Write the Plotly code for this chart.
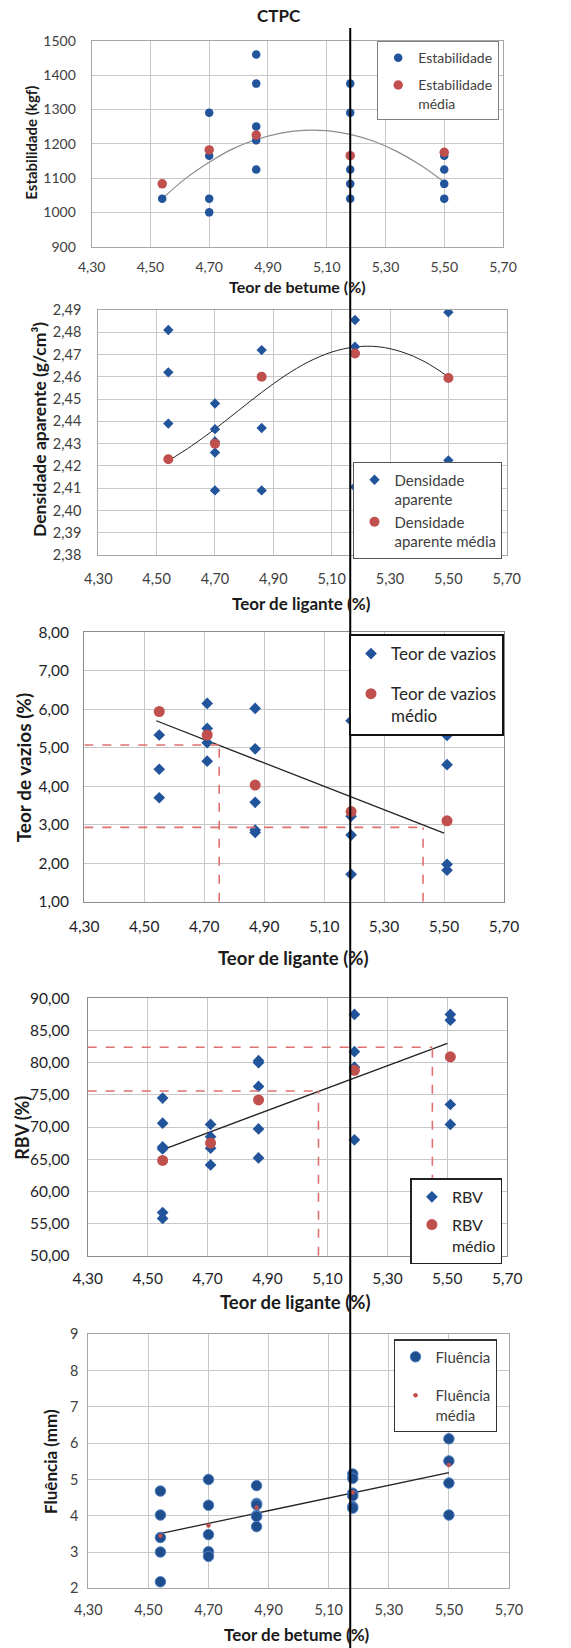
import plotly.graph_objects as go

W, H = 571, 1648
FONT = "Lato"
BLUE = "#22549B"
RED = "#C0504D"

# ---------------- Data ----------------
x_ticks = [4.30, 4.50, 4.70, 4.90, 5.10, 5.30, 5.50, 5.70]

# Plot 1 - Estabilidade
est_x = [4.54, 4.70, 4.70, 4.70, 4.70, 4.86, 4.86, 4.86, 4.86, 4.86,
         5.18, 5.18, 5.18, 5.18, 5.18, 5.50, 5.50, 5.50, 5.50]
est_y = [1040, 1290, 1165, 1040, 1000, 1460, 1375, 1250, 1210, 1125,
         1375, 1290, 1125, 1083, 1040, 1165, 1125, 1083, 1040]
est_med_x = [4.54, 4.70, 4.86, 5.18, 5.50]
est_med_y = [1083, 1182, 1225, 1165, 1175]
est_trend_x = [4.54, 4.62, 4.70, 4.78, 4.86, 4.94, 5.02, 5.10, 5.18, 5.26, 5.34, 5.42, 5.50]
est_trend_y = [1040, 1099, 1146, 1185, 1212, 1230, 1239, 1238, 1227, 1207, 1177, 1137, 1088]

# Plot 2 - Densidade aparente
den_x = [4.54, 4.54, 4.54, 4.70, 4.70, 4.70, 4.70, 4.70, 4.86, 4.86, 4.86,
         5.18, 5.18, 5.18, 5.50, 5.50]
den_y = [2.481, 2.462, 2.439, 2.448, 2.4365, 2.431, 2.426, 2.409, 2.472, 2.437, 2.409,
         2.4855, 2.4735, 2.4105, 2.489, 2.4225]
den_med_x = [4.54, 4.70, 4.86, 5.18, 5.50]
den_med_y = [2.423, 2.430, 2.460, 2.4705, 2.4595]
den_trend_x = [4.54, 4.62, 4.70, 4.78, 4.86, 4.94, 5.02, 5.10, 5.18, 5.26, 5.34, 5.42, 5.50]
den_trend_y = [2.4223, 2.4290, 2.4366, 2.4448, 2.4530, 2.4605, 2.4667, 2.4711, 2.4734,
               2.4735, 2.4712, 2.4667, 2.4600]

# Plot 3 - Teor de vazios
vaz_x = [4.55, 4.55, 4.55, 4.71, 4.71, 4.71, 4.71, 4.87, 4.87, 4.87, 4.87, 4.87,
         5.19, 5.19, 5.19, 5.19, 5.51, 5.51, 5.51, 5.51]
vaz_y = [5.33, 4.44, 3.70, 6.15, 5.50, 5.13, 4.65, 6.02, 4.97, 3.58, 2.86, 2.80,
         5.70, 3.22, 2.73, 1.71, 5.32, 4.56, 1.97, 1.82]
vaz_med_x = [4.55, 4.71, 4.87, 5.19, 5.51]
vaz_med_y = [5.94, 5.33, 4.03, 3.34, 3.10]
vaz_trend_x = [4.54, 5.50]
vaz_trend_y = [5.70, 2.78]
vaz_ref_x = [4.75, 5.43]
vaz_ref_y = [5.07, 2.93]

# Plot 4 - RBV
rbv_x = [4.55] * 6 + [4.71] * 4 + [4.87] * 5 + [5.19] * 4 + [5.51] * 4
rbv_y = [74.5, 70.6, 66.9, 66.6, 56.7, 55.8,
         70.4, 68.5, 66.7, 64.1,
         80.3, 80.0, 76.3, 69.7, 65.2,
         87.5, 81.7, 79.3, 68.0,
         87.5, 86.6, 73.5, 70.4]
rbv_med_x = [4.55, 4.71, 4.87, 5.19, 5.51]
rbv_med_y = [64.8, 67.5, 74.2, 78.8, 80.9]
rbv_trend_x = [4.54, 5.50]
rbv_trend_y = [66.3, 83.0]
rbv_ref_x = [5.07, 5.45]
rbv_ref_y = [75.6, 82.4]

# Plot 5 - Fluência
flu_x = [4.54] * 5 + [4.70] * 5 + [4.86] * 6 + [5.18] * 6 + [5.50] * 4
flu_y = [4.68, 4.02, 3.40, 3.00, 2.18,
         5.00, 4.29, 3.48, 3.01, 2.88,
         4.83, 4.34, 4.30, 4.01, 3.98, 3.70,
         5.15, 5.03, 4.62, 4.55, 4.25, 4.21,
         6.12, 5.51, 4.90, 4.02]
flu_med_x = [4.54, 4.70, 4.86, 5.18, 5.50]
flu_med_y = [3.45, 3.73, 4.23, 4.64, 5.40]
flu_trend_x = [4.535, 5.50]
flu_trend_y = [3.50, 5.19]

optimum_x = 5.18

# ---------------- Layout helpers ----------------
def dx(px):
    return px / W

def dy(py):
    return 1 - py / H

# plot areas in pixels: (left, right, top, bottom)
areas = [
    (91.7, 503.0, 40.7, 246.7),
    (98.3, 506.7, 310.0, 555.0),
    (84.3, 504.0, 632.2, 901.7),
    (87.7, 507.3, 998.3, 1255.7),
    (88.3, 509.0, 1334.3, 1588.3),
]

fig = go.Figure()

def add(trace):
    fig.add_trace(trace)

# Plot 1
add(go.Scatter(x=est_trend_x, y=est_trend_y, mode="lines", line=dict(color="#8C8C8C", width=1.2, shape="spline"),
               showlegend=False, xaxis="x", yaxis="y", hoverinfo="skip"))
add(go.Scatter(x=est_x, y=est_y, mode="markers", name="Estabilidade",
               marker=dict(color=BLUE, size=8.5, symbol="circle"), xaxis="x", yaxis="y",
               legend="legend", legendgroup="a1"))
add(go.Scatter(x=est_med_x, y=est_med_y, mode="markers", name="Estabilidade<br>média",
               marker=dict(color=RED, size=9.5, symbol="circle"), xaxis="x", yaxis="y",
               legend="legend", legendgroup="b1"))

# Plot 2
add(go.Scatter(x=den_trend_x, y=den_trend_y, mode="lines", line=dict(color="#222222", width=1, shape="spline"),
               showlegend=False, xaxis="x2", yaxis="y2", hoverinfo="skip"))
add(go.Scatter(x=den_x, y=den_y, mode="markers", name="Densidade<br>aparente",
               marker=dict(color=BLUE, size=8, symbol="diamond"), xaxis="x2", yaxis="y2",
               legend="legend2", legendgroup="a2"))
add(go.Scatter(x=den_med_x, y=den_med_y, mode="markers", name="Densidade<br>aparente média",
               marker=dict(color=RED, size=10, symbol="circle"), xaxis="x2", yaxis="y2",
               legend="legend2", legendgroup="b2"))

# Plot 3
add(go.Scatter(x=vaz_trend_x, y=vaz_trend_y, mode="lines", line=dict(color="#222222", width=1.3),
               showlegend=False, xaxis="x3", yaxis="y3", hoverinfo="skip"))
add(go.Scatter(x=vaz_x, y=vaz_y, mode="markers", name="Teor de vazios",
               marker=dict(color=BLUE, size=9, symbol="diamond"), xaxis="x3", yaxis="y3",
               legend="legend3", legendgroup="a3"))
add(go.Scatter(x=vaz_med_x, y=vaz_med_y, mode="markers", name="Teor de vazios<br>médio",
               marker=dict(color=RED, size=11, symbol="circle"), xaxis="x3", yaxis="y3",
               legend="legend3", legendgroup="b3"))

# Plot 4
add(go.Scatter(x=rbv_trend_x, y=rbv_trend_y, mode="lines", line=dict(color="#222222", width=1.3),
               showlegend=False, xaxis="x4", yaxis="y4", hoverinfo="skip"))
add(go.Scatter(x=rbv_x, y=rbv_y, mode="markers", name="RBV",
               marker=dict(color=BLUE, size=9, symbol="diamond"), xaxis="x4", yaxis="y4",
               legend="legend4", legendgroup="a4"))
add(go.Scatter(x=rbv_med_x, y=rbv_med_y, mode="markers", name="RBV<br>médio",
               marker=dict(color=RED, size=11, symbol="circle"), xaxis="x4", yaxis="y4",
               legend="legend4", legendgroup="b4"))

# Plot 5
add(go.Scatter(x=flu_trend_x, y=flu_trend_y, mode="lines", line=dict(color="#222222", width=1.3),
               showlegend=False, xaxis="x5", yaxis="y5", hoverinfo="skip"))
add(go.Scatter(x=flu_x, y=flu_y, mode="markers", name="Fluência",
               marker=dict(color="#1F4E8F", size=10.5, symbol="circle", line=dict(color="#5080C0", width=1)),
               xaxis="x5", yaxis="y5", legend="legend5", legendgroup="a5"))
add(go.Scatter(x=flu_med_x, y=flu_med_y, mode="markers", name="Fluência<br>média",
               marker=dict(color=RED, size=4.5, symbol="circle"), xaxis="x5", yaxis="y5",
               legend="legend5", legendgroup="b5"))

layout = dict(
    width=W, height=H, margin=dict(l=0, r=0, t=0, b=0, pad=0),
    paper_bgcolor="white", plot_bgcolor="white",
    separators=",.", font=dict(family=FONT, color="#404040", size=14),
)

y_specs = [
    dict(range=[900, 1500], dtick=100, tick0=900, tickformat="d"),
    dict(range=[2.38, 2.49], dtick=0.01, tick0=2.38, tickformat=".2f"),
    dict(range=[1, 8], dtick=1, tick0=1, tickformat=".2f"),
    dict(range=[50, 90], dtick=5, tick0=50, tickformat=".2f"),
    dict(range=[2, 9], dtick=1, tick0=2, tickformat="d"),
]
tick_styles = [
    dict(size=14, color="#404040", xs=7, ys=12, line="#A6A6A6"),
    dict(size=14.5, color="#404040", xs=10, ys=13, line="#A6A6A6"),
    dict(size=15.5, color="#1E1E28", xs=11, ys=11, line="#8C8C8C"),
    dict(size=15.5, color="#1E1E28", xs=9, ys=14, line="#8C8C8C"),
    dict(size=14.5, color="#404040", xs=8, ys=6, line="#A6A6A6"),
]

for i, (l, r, t, b) in enumerate(areas):
    n = "" if i == 0 else str(i + 1)
    ts = tick_styles[i]
    layout["xaxis" + n] = dict(
        domain=[dx(l), dx(r)], anchor="y" + n, range=[4.30, 5.70], tickvals=x_ticks,
        tickformat=".2f", showgrid=True, gridcolor="#C8C8C8", gridwidth=1,
        showline=True, mirror=True, linecolor=ts["line"], linewidth=1.2,
        zeroline=False, ticks="", tickfont=dict(size=ts["size"], color=ts["color"], family=FONT),
        ticklabelstandoff=ts["xs"], automargin=False, fixedrange=True,
    )
    ys = y_specs[i]
    layout["yaxis" + n] = dict(
        domain=[dy(b), dy(t)], anchor="x" + n, range=ys["range"], dtick=ys["dtick"], tick0=ys["tick0"],
        tickformat=ys["tickformat"], showgrid=True, gridcolor="#C8C8C8", gridwidth=1,
        showline=True, mirror=True, linecolor=ts["line"], linewidth=1.2,
        zeroline=False, ticks="", tickfont=dict(size=ts["size"], color=ts["color"], family=FONT),
        ticklabelstandoff=ts["ys"], automargin=False, fixedrange=True,
    )

# (name, right edge px, top px, font size, group gap, border colour, border width)
legend_specs = [
    ("legend", 499.0, 41.0, 14, 6, "#7F7F7F", 1.2),
    ("legend2", 502.3, 462.3, 15, 0, "#555555", 1.2),
    ("legend3", 504.0, 634.0, 17, 15, "#111111", 2),
    ("legend4", 502.3, 1178.3, 16, 4, "#222222", 1.6),
    ("legend5", 497.3, 1339.3, 15, 16, "#333333", 1.2),
]
for name, rx, ty, fs, gap, bc, bw in legend_specs:
    layout[name] = dict(
        x=dx(rx), y=dy(ty), xanchor="right", yanchor="top", xref="paper", yref="paper",
        bgcolor="white", bordercolor=bc, borderwidth=bw,
        font=dict(family=FONT, size=fs, color="#262626" if name in ("legend3", "legend4") else "#404040"),
        tracegroupgap=gap, valign="top", itemwidth=30,
    )

fig.update_layout(**layout)

# Titles (annotations)
def title(text, px, py, size, angle=0, color="#1A1A1A"):
    fig.add_annotation(text="<b>%s</b>" % text, x=dx(px), y=dy(py), xref="paper", yref="paper",
                       showarrow=False, xanchor="center", yanchor="middle", textangle=angle,
                       font=dict(family=FONT, size=size, color=color))

title("CTPC", 279.3, 16, 17)
title("Teor de betume (%)", 297.2, 287, 16)
title("Estabilidade (kgf)", 30.7, 143, 15, -90)
title("Teor de ligante (%)", 301.7, 603, 17)
title("Densidade aparente (g/cm³)", 40, 430, 17.5, -90)
title("Teor de ligante (%)", 293.3, 958, 18.5)
title("Teor de vazios (%)", 23.3, 768, 19, -90)
title("Teor de ligante (%)", 295.5, 1302, 18.5)
title("RBV (%)", 21.7, 1128, 18, -90)
title("Teor de betume (%)", 297.3, 1634, 17)
title("Fluência (mm)", 50, 1462, 17, -90)

# Dashed reference lines (plot 3 and plot 4)
dash = dict(color="#E07070", width=1.6, dash="dash")
for (xa, ya, rx, ry, ybot) in [("x3", "y3", vaz_ref_x, vaz_ref_y, 1.0), ("x4", "y4", rbv_ref_x, rbv_ref_y, 50.0)]:
    for j in range(2):
        fig.add_shape(type="line", xref=xa, yref=ya, x0=4.30, x1=rx[j], y0=ry[j], y1=ry[j], line=dash, layer="above")
        fig.add_shape(type="line", xref=xa, yref=ya, x0=rx[j], x1=rx[j], y0=ybot, y1=ry[j], line=dash, layer="above")

# Optimum binder content vertical line across all plots
px_opt = areas[0][0] + (optimum_x - 4.30) / 1.40 * (areas[0][1] - areas[0][0])
fig.add_shape(type="line", xref="paper", yref="paper", x0=dx(px_opt), x1=dx(px_opt),
              y0=0, y1=dy(28), line=dict(color="black", width=2), layer="above")

fig.write_html("out.html")
